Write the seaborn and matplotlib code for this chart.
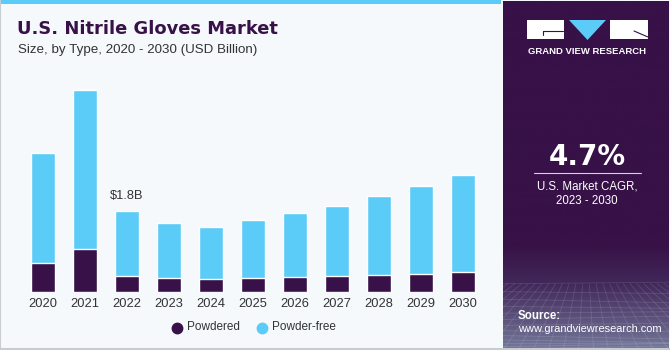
import matplotlib
matplotlib.use("Agg")
import matplotlib.pyplot as plt
import seaborn as sns
import numpy as np
import pandas as pd
from matplotlib.patches import Rectangle, Polygon
from matplotlib.lines import Line2D

years = ["2020", "2021", "2022", "2023", "2024", "2025", "2026", "2027", "2028", "2029", "2030"]
powdered = [0.65, 0.96, 0.36, 0.31, 0.29, 0.31, 0.33, 0.36, 0.38, 0.41, 0.45]
powder_free = [2.45, 3.55, 1.44, 1.24, 1.16, 1.29, 1.43, 1.57, 1.77, 1.96, 2.16]
series_names = ["Powdered", "Powder-free"]
annot_year = "2022"
annot_text = "$1.8B"

C_DARK = "#371147"
C_BLUE = "#5BCBF7"
BG = "#F5F9FC"
W, H = 670, 350

df = pd.DataFrame({"year": years, "Powdered": powdered, "Powder-free": powder_free})
df["total"] = df["Powdered"] + df["Powder-free"]

sns.set_theme(style="white")
plt.rcParams["font.family"] = ["Liberation Sans", "DejaVu Sans"]

fig = plt.figure(figsize=(W / 100, H / 100), dpi=100)
fig.patch.set_facecolor(BG)

def fx(px):
    return px / W

def fy(py):
    return 1 - py / H

# top stripe
fig.patches.append(Rectangle((0, fy(4)), fx(501), 4 / H, transform=fig.transFigure,
                             facecolor=C_BLUE, edgecolor="none", zorder=0))
# outer border lines
fig.add_artist(Line2D([0, 0], [0, 1], transform=fig.transFigure, color="#C8CCD0", lw=1.5))
fig.add_artist(Line2D([0, 1], [fy(349), fy(349)], transform=fig.transFigure, color="#C8CCD0", lw=1.5))

# Right panel with gradient
pax = fig.add_axes([fx(503), 0, fx(166), 1 - 1 / H])
pax.set_xlim(0, 1)
pax.set_ylim(0, 1)
pax.axis("off")
n = 350
top = np.array([0x37, 0x11, 0x47]) / 255
mid = np.array([0x42, 0x28, 0x5A]) / 255
bot = np.array([0x74, 0x78, 0x9A]) / 255
grad = np.zeros((n, 1, 3))
for i in range(n):
    t = i / (n - 1)  # 0 top -> 1 bottom
    if t < 0.70:
        grad[i, 0] = top
    elif t < 0.81:
        s = (t - 0.70) / 0.11
        grad[i, 0] = top * (1 - s) + mid * s
    else:
        s = (t - 0.81) / 0.19
        grad[i, 0] = mid * (1 - s) + bot * s
pax.imshow(grad, extent=[0, 1, 0, 1], aspect="auto", zorder=0)
# faint perspective grid
for k in range(14):
    yv = 0.19 * (k / 13) ** 1.6
    pax.plot([0, 1], [yv, yv + 0.01 * np.sin(k)], color="white", alpha=0.12, lw=0.6, zorder=1)
for k in range(-6, 18):
    x0 = k / 11
    pax.plot([x0, 0.5 + (x0 - 0.5) * 0.45], [0, 0.19], color="white", alpha=0.12, lw=0.6, zorder=1)

# Logo
fig.patches.append(Rectangle((fx(527), fy(39)), fx(37), 19 / H, transform=fig.transFigure,
                             facecolor="white", edgecolor="none"))
fig.patches.append(Polygon([(fx(569), fy(20)), (fx(606), fy(20)), (fx(587.5), fy(40))],
                           closed=True, transform=fig.transFigure, facecolor=C_BLUE, edgecolor="none"))
fig.patches.append(Rectangle((fx(610), fy(39)), fx(38), 19 / H, transform=fig.transFigure,
                             facecolor="white", edgecolor="none"))
fig.add_artist(Line2D([fx(543), fx(563)], [fy(31), fy(31)], transform=fig.transFigure, color=C_DARK, lw=0.8))
fig.add_artist(Line2D([fx(543), fx(543)], [fy(31), fy(35)], transform=fig.transFigure, color=C_DARK, lw=0.8))
fig.add_artist(Line2D([fx(634), fx(648)], [fy(31), fy(37)], transform=fig.transFigure, color=C_DARK, lw=0.8))
fig.text(fx(587.5), fy(51), "GRAND VIEW RESEARCH", color="white", fontsize=6.8, fontweight="bold",
         ha="center", va="center")

# CAGR block
fig.text(fx(587.5), fy(157), "4.7%", color="white", fontsize=20, fontweight="bold", ha="center", va="center",
         family=["DejaVu Sans"])
fig.add_artist(Line2D([fx(534), fx(641)], [fy(173), fy(173)], transform=fig.transFigure, color="#D8D0E0", lw=0.8))
fig.text(fx(587), fy(186.5), "U.S. Market CAGR,", color="white", fontsize=8.3, ha="center", va="center")
fig.text(fx(587), fy(201), "2023 - 2030", color="white", fontsize=8.3, ha="center", va="center")

fig.text(fx(518), fy(316), "Source:", color="white", fontsize=8.3, fontweight="bold", ha="left", va="center")
fig.text(fx(518), fy(329.5), "www.grandviewresearch.com", color="white", fontsize=7.9, ha="left", va="center")

# Titles
fig.text(fx(17), fy(29), "U.S. Nitrile Gloves Market", color=C_DARK, fontsize=12.9, fontweight="bold",
         ha="left", va="center", family=["DejaVu Sans"])
fig.text(fx(18), fy(50), "Size, by Type, 2020 - 2030 (USD Billion)", color="#333333", fontsize=9.6,
         ha="left", va="center")

# Main chart
scale = 44.8
ax = fig.add_axes([fx(22), fy(292), fx(462), 212 / H])
ax.set_facecolor("none")
sns.barplot(data=df, x="year", y="total", color=C_BLUE, width=0.58, saturation=1, ax=ax, zorder=2)
sns.barplot(data=df, x="year", y="Powdered", color=C_DARK, width=0.58, saturation=1, ax=ax, zorder=3)
ax.set_xlim(-0.5, len(years) - 0.5)
ax.set_ylim(0, 212 / scale)
ax.set_xlabel("")
ax.set_ylabel("")
ax.set_yticks([])
for s in ax.spines.values():
    s.set_visible(False)
ax.tick_params(axis="x", length=0, pad=4, labelsize=9.3, labelcolor="#333333")

i = years.index(annot_year)
ax.text(i, df["total"][i] + 0.2, annot_text, ha="center", va="bottom", fontsize=9.3, color="#333333")

# Legend
fig.add_artist(Line2D([fx(177)], [fy(327.5)], marker="o", markersize=7.5, color=C_DARK,
                      transform=fig.transFigure, linestyle="none"))
fig.text(fx(187), fy(327.5), series_names[0], fontsize=8.5, color="#333333", ha="left", va="center")
fig.add_artist(Line2D([fx(262)], [fy(327.5)], marker="o", markersize=7.5, color=C_BLUE,
                      transform=fig.transFigure, linestyle="none"))
fig.text(fx(272), fy(327.5), series_names[1], fontsize=8.5, color="#333333", ha="left", va="center")

fig.savefig("out.png", dpi=100, facecolor=fig.get_facecolor())
